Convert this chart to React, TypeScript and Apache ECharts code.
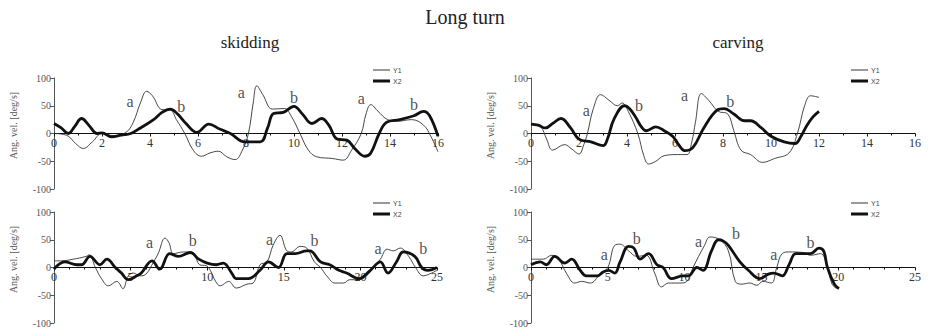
import React, { useEffect, useRef } from "react";
import * as echarts from "echarts";

// Long turn, skidding (top-left), t [s] vs ang. vel. [deg/s]
const skidLongY1: [number, number][] = [
  [0, 0], [0.3, -1], [0.6, -5], [0.9, -18], [1.22, -27], [1.6, -15], [2.0, 0], [2.5, -4], [3.0, 2],
  [3.3, 20], [3.6, 55], [3.86, 76], [4.1, 68], [4.5, 43], [4.85, 42], [5.1, 25], [5.45, 0], [5.8, -30],
  [6.15, -41], [6.5, -35], [6.85, -32], [7.2, -42], [7.55, -47], [7.85, -30], [8.1, 0], [8.3, 55],
  [8.45, 86], [8.7, 70], [9.1, 44], [9.6, 45], [9.9, 30], [10.25, 0], [10.6, -30], [10.95, -42],
  [11.6, -45], [12.05, -48], [12.4, -30], [12.8, 0], [13.0, 35], [13.2, 52], [13.5, 40], [13.9, 25],
  [14.3, 22], [14.9, 25], [15.4, 15], [15.7, -5], [16, -33],
];
const skidLongX2: [number, number][] = [
  [0, 18], [0.3, 10], [0.6, 0], [0.85, 12], [1.15, 27], [1.45, 15], [1.8, 0], [2.0, 1], [2.4, -6],
  [2.8, -3], [3.2, 0], [3.6, 10], [4.15, 25], [4.5, 38], [4.85, 44], [5.15, 35], [5.5, 18], [5.95, 2],
  [6.45, 17], [6.9, 8], [7.35, 0], [7.95, -15], [8.6, -15], [8.9, 10], [9.15, 36], [9.55, 38], [10.0, 49],
  [10.35, 35], [10.75, 18], [11.15, 27], [11.45, 15], [11.8, -10], [12.2, -12], [12.55, -28], [12.95, -41],
  [13.2, -35], [13.55, 0], [13.85, 20], [14.4, 25], [15.0, 32], [15.4, 40], [15.65, 32], [16, -5],
];
const skidLongMarks: [number, number, string][] = [
  [3.17, 58, "a"], [5.3, 49, "b"], [7.8, 74, "a"], [10.0, 65, "b"], [12.8, 63, "a"], [15.0, 53, "b"],
];

// Long turn, carving (top-right)
const carvLongY1: [number, number][] = [
  [0, 17], [0.4, 12], [0.65, -10], [0.9, -30], [1.4, -20], [1.7, -28], [2.0, -37], [2.2, -20], [2.35, 0],
  [2.6, 45], [2.9, 70], [3.25, 60], [3.6, 50], [3.8, 55], [4.05, 40], [4.45, 0], [4.7, -40], [4.9, -55],
  [5.2, -50], [5.55, -40], [6.1, -38], [6.5, -38], [6.7, -15], [6.85, 20], [7.1, 72], [7.4, 60], [7.8, 40],
  [8.2, 35], [8.45, 5], [8.75, -30], [9.15, -38], [9.65, -52], [10.15, -45], [10.75, -35], [11.1, 0],
  [11.4, 50], [11.65, 68], [12, 65],
];
const carvLongX2: [number, number][] = [
  [0, 17], [0.3, 15], [0.6, 10], [0.9, 18], [1.25, 27], [1.65, 10], [2.0, -10], [2.5, -15], [3.0, -22],
  [3.2, -8], [3.45, 25], [3.9, 50], [4.1, 45], [4.35, 30], [4.6, 12], [4.8, 5], [5.2, 12], [5.55, 5],
  [5.9, -5], [6.15, -20], [6.4, -31], [6.75, -25], [7.2, 10], [7.75, 42], [8.05, 45], [8.45, 35], [8.9, 23],
  [9.15, 23], [9.6, 10], [10.0, -5], [10.55, -15], [11.0, -18], [11.25, -5], [11.5, 15], [11.75, 30], [12, 40],
];
const carvLongMarks: [number, number, string][] = [
  [2.3, 41, "a"], [4.5, 50, "b"], [6.4, 68, "a"], [8.3, 57, "b"],
];

// bottom-left (skidding)
const skidShortY1: [number, number][] = [
  [0, 12], [0.5, 12], [1.26, 15], [2.1, 20], [2.3, 23], [2.7, 0], [3.1, -20], [3.55, -33], [4.1, -25],
  [4.5, -38], [4.85, -15], [5.2, -10], [5.6, -15], [6.0, -12], [6.5, 10], [6.8, 25], [7.25, 53], [7.5, 45],
  [7.8, 25], [8.45, 28], [9.1, 25], [9.5, 5], [9.95, 3], [10.2, -5], [10.55, -25], [10.85, -33], [11.4, -25],
  [11.9, -37], [12.6, -30], [13.0, -28], [13.45, 5], [13.9, 10], [14.3, 40], [14.75, 58], [15.2, 30],
  [15.5, 28], [16.05, 38], [16.5, 35], [17.0, 10], [17.4, 0], [17.8, -15], [18.35, -28], [18.9, -28],
  [19.3, -22], [19.9, -22], [20.4, -15], [20.85, 0], [21.3, 15], [21.75, 33], [22.15, 30], [22.6, 35],
  [23.15, 20], [23.6, 0], [24.1, -15], [24.65, -10], [25, -5],
];
const skidShortX2: [number, number][] = [
  [0, -3], [0.7, 10], [1.5, 5], [1.8, 5], [2.35, 20], [3.0, 5], [3.45, 15], [4.0, 0], [4.4, -10],
  [4.85, -22], [5.4, -15], [5.7, -10], [6.4, 12], [6.9, -3], [7.55, 25], [8.1, 20], [8.9, 27], [9.45, 15],
  [10.0, 8], [10.6, 5], [11.05, 8], [11.6, -10], [11.9, -20], [12.7, -20], [13.45, -5], [14.0, 10],
  [14.65, 0], [15.2, 25], [15.75, 25], [16.5, 30], [16.7, 30], [17.4, 10], [18.0, 5], [18.6, -5],
  [19.1, -10], [19.9, -20], [20.65, -5], [21.3, 10], [21.8, -10], [22.35, 10], [22.8, 28], [23.55, 20],
  [24.0, 0], [24.4, -5], [25, 0],
];
const skidShortMarks: [number, number, string][] = [
  [6.23, 45, "a"], [9.06, 48, "b"], [14.07, 50, "a"], [17.0, 49, "b"], [21.15, 35, "a"], [24.1, 35, "b"],
];

// bottom-right (carving)
const carvShortY1: [number, number][] = [
  [0, 15], [0.8, 15], [1.35, 22], [1.8, 15], [2.3, -10], [2.85, -28], [3.3, -25], [3.85, -28], [4.5, -12],
  [5.0, 0], [5.45, 40], [5.8, 42], [6.35, 30], [6.9, 20], [7.5, 22], [8.05, -10], [8.5, -35], [8.95, -28],
  [9.7, -28], [10.15, -25], [10.55, 0], [11.3, 40], [11.65, 55], [12.3, 50], [12.85, 30], [13.3, -25],
  [13.7, -30], [14.25, -28], [14.7, -32], [15.1, -25], [15.65, -28], [16.0, 0], [16.35, 25], [16.8, 28],
  [17.7, 27], [18.2, 22], [18.85, 25], [19.3, 0], [19.6, -30], [19.9, -38],
];
const carvShortX2: [number, number][] = [
  [0, 5], [0.6, 10], [1.0, 5], [1.55, 20], [2.2, 8], [2.65, 15], [3.2, -5], [3.6, -15], [4.3, -15],
  [4.7, -8], [5.05, -5], [5.45, -10], [5.8, 10], [6.35, 38], [6.7, 35], [7.1, 15], [7.65, 25], [8.2, 5],
  [8.6, 0], [9.15, -20], [9.9, -15], [10.25, -15], [10.8, 0], [11.2, -5], [11.75, 30], [12.2, 50],
  [12.5, 48], [12.85, 40], [13.6, 10], [14.15, -5], [14.9, -20], [15.45, -12], [15.8, -10], [16.35, -15],
  [16.8, 5], [17.25, 25], [18.2, 25], [18.75, 35], [19.05, 30], [19.3, 0], [19.75, -30], [20.05, -38],
];
const carvShortMarks: [number, number, string][] = [
  [4.77, 24, "a"], [6.88, 53, "b"], [10.9, 47, "a"], [13.35, 62, "b"], [15.8, 23, "a"], [18.2, 45, "b"],
];

const seriesNames = ["Y1", "X2"];
const xMaxes = [16, 16, 25, 25];
const xIntervals = [2, 2, 5, 5];
const yTicks = [-100, 100, 50];
const mainTitle = "Long turn";
const columnTitles = ["skidding", "carving"];
const yAxisName = "Ang. vel. [deg/s]";

const SERIF = "'Liberation Serif', 'Times New Roman', serif";
const SANS = "'Liberation Sans', Arial, sans-serif";

export default function App() {
  const ref = useRef<HTMLDivElement>(null);
  useEffect(() => {
    if (!ref.current) return;
    const chart = echarts.init(ref.current, undefined, { renderer: "svg" });

    const grids = [
      { left: 54, top: 78, width: 384, height: 111 },
      { left: 531, top: 78, width: 384, height: 111 },
      { left: 54, top: 212, width: 383, height: 111 },
      { left: 531, top: 212, width: 384, height: 111 },
    ];
    const panels = [
      { y1: skidLongY1, x2: skidLongX2, marks: skidLongMarks },
      { y1: carvLongY1, x2: carvLongX2, marks: carvLongMarks },
      { y1: skidShortY1, x2: skidShortX2, marks: skidShortMarks },
      { y1: carvShortY1, x2: carvShortX2, marks: carvShortMarks },
    ];

    const xAxis = grids.map((g, i) => ({
      gridIndex: i,
      type: "value",
      position: "bottom",
      offset: -g.height / 2,
      min: 0,
      max: xMaxes[i],
      interval: xIntervals[i],
      axisLine: { onZero: false, lineStyle: { color: "#111", width: 1 } },
      axisTick: { show: true, length: 3, lineStyle: { color: "#111" } },
      minorTick: { show: true, splitNumber: xIntervals[i] === 2 ? 2 : 5, length: 2, lineStyle: { color: "#111" } },
      axisLabel: {
        fontFamily: SERIF, fontSize: 12, color: "#333", margin: 3,
        showMinLabel: true, showMaxLabel: true, hideOverlap: false,
      },
      splitLine: { show: false },
    }));
    const yAxis = grids.map((_, i) => ({
      gridIndex: i,
      type: "value",
      min: yTicks[0],
      max: yTicks[1],
      interval: yTicks[2],
      axisLine: { show: true, onZero: false, lineStyle: { color: "#555", width: 1 } },
      axisTick: { show: true, length: 4, lineStyle: { color: "#555" } },
      axisLabel: { fontFamily: SERIF, fontSize: 10, color: "#555", margin: 3 },
      splitLine: { show: false },
    }));

    const series: any[] = [];
    panels.forEach((p, i) => {
      series.push({
        name: seriesNames[0], type: "line", xAxisIndex: i, yAxisIndex: i, data: p.y1,
        smooth: 0.4, symbol: "none", lineStyle: { color: "#333", width: 0.9 }, itemStyle: { color: "#333" },
      });
      series.push({
        name: seriesNames[1], type: "line", xAxisIndex: i, yAxisIndex: i, data: p.x2,
        smooth: 0.4, symbol: "none", lineStyle: { color: "#111", width: 2.8 }, itemStyle: { color: "#111" },
      });
      series.push({
        name: "ann" + i, type: "scatter", xAxisIndex: i, yAxisIndex: i,
        data: p.marks.map((m) => ({ value: [m[0], m[1]], name: m[2] })),
        symbol: "circle", symbolSize: 0, itemStyle: { color: "#222" }, silent: true,
        emphasis: { disabled: true },
        label: {
          show: true, position: [0, 0], align: "center", verticalAlign: "middle", formatter: "{b}",
          fontFamily: SERIF, fontSize: 16, color: "#222",
        },
      });
    });

    const legendPos = [
      { left: 373, top: 66 },
      { left: 851, top: 66 },
      { left: 373, top: 199 },
      { left: 851, top: 199 },
    ];
    const legend = legendPos.map((lp) => ({
      data: [
        { name: seriesNames[0], icon: "path://M0,0h17v1h-17z" },
        { name: seriesNames[1], icon: "path://M0,0h17v3h-17z" },
      ],
      orient: "vertical",
      left: lp.left,
      top: lp.top,
      padding: 0,
      itemWidth: 17,
      itemHeight: 8,
      itemGap: 3,
      symbolKeepAspect: true,
      selectedMode: false,
      textStyle: { fontFamily: SANS, fontSize: 7, lineHeight: 8, color: "#444", padding: [0, 0, 0, -2] },
    }));

    const graphic: any[] = [
      { type: "text", x: 465, y: 17, style: { text: mainTitle, font: `20px ${SERIF}`, fill: "#222", textAlign: "center", textVerticalAlign: "middle" } },
      { type: "text", x: 250, y: 42, style: { text: columnTitles[0], font: `17px ${SERIF}`, fill: "#222", textAlign: "center", textVerticalAlign: "middle" } },
      { type: "text", x: 738, y: 42, style: { text: columnTitles[1], font: `17px ${SERIF}`, fill: "#222", textAlign: "center", textVerticalAlign: "middle" } },
    ];
    grids.forEach((g) => {
      graphic.push({
        type: "text", x: g.left - 41, y: g.top + g.height / 2 - 8, rotation: Math.PI / 2,
        style: { text: yAxisName, font: `10px ${SERIF}`, fill: "#555", textAlign: "center", textVerticalAlign: "middle" },
      });
    });

    chart.setOption({
      animation: false,
      backgroundColor: "#fff",
      grid: grids,
      xAxis,
      yAxis,
      series,
      legend,
      graphic,
    });
    return () => chart.dispose();
  }, []);
  return <div ref={ref} style={{ position: "fixed", left: 0, top: 0, width: 928, height: 333 }} />;
}
